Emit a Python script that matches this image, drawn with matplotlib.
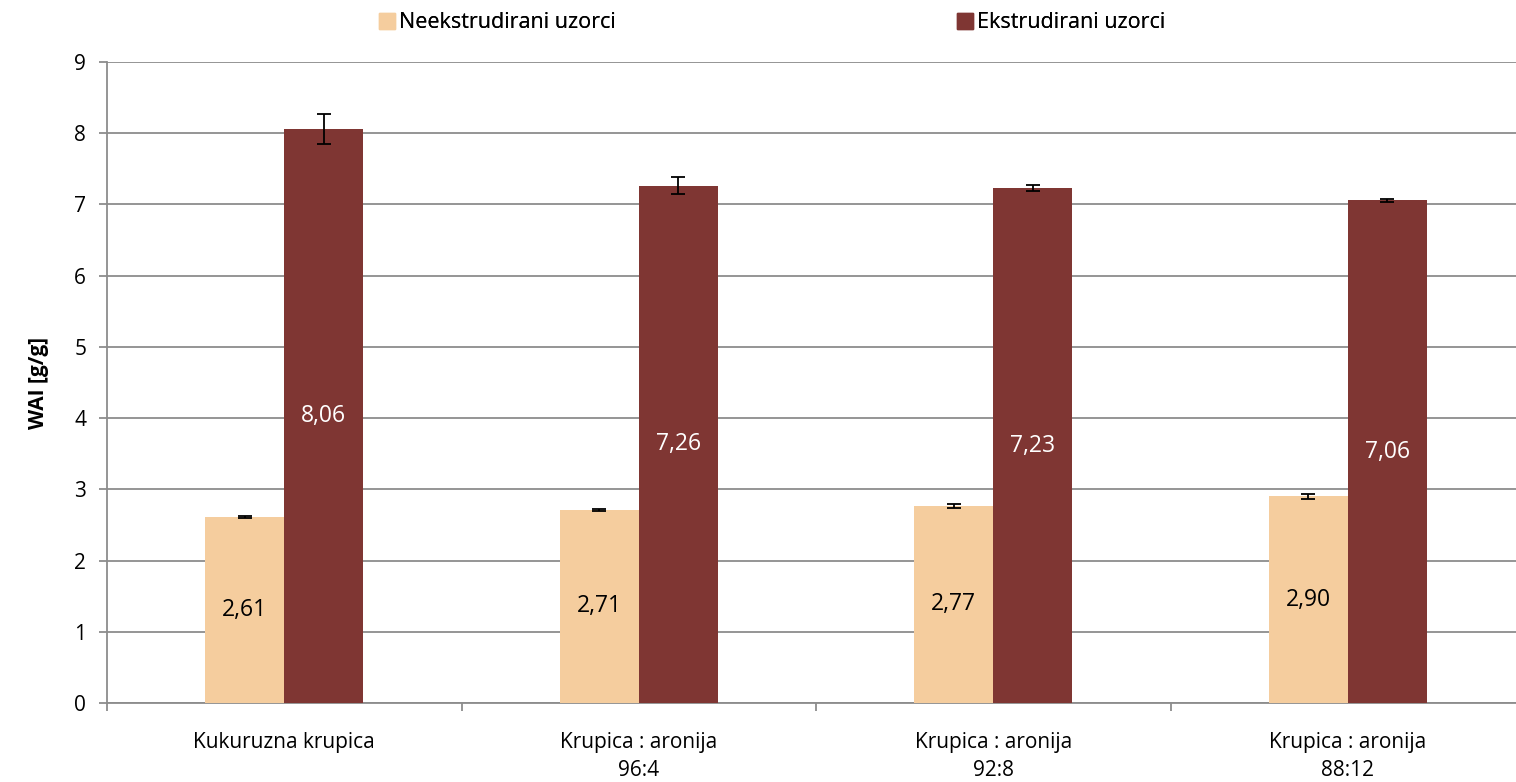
import matplotlib.pyplot as plt
import numpy as np
from matplotlib.patches import Patch

plt.rcParams['font.family'] = ['Open Sans', 'DejaVu Sans']

# Podaci
kategorije = ["Kukuruzna krupica", "Krupica : aronija\n96:4",
              "Krupica : aronija\n92:8", "Krupica : aronija\n88:12"]
neekstrudirani = [2.61, 2.71, 2.77, 2.90]
neekstrudirani_sd = [0.01, 0.02, 0.03, 0.04]
ekstrudirani = [8.06, 7.26, 7.23, 7.06]
ekstrudirani_sd = [0.21, 0.12, 0.04, 0.02]

c_svijetla = "#F5CD9E"
c_tamna = "#7F3633"
c_siva = "#8C8C8C"

fig = plt.figure(figsize=(15.16, 7.82), dpi=100)
# desni rub grafa je odrezan kao na originalu
ax = fig.add_axes([107 / 1516, 1 - 703 / 782, 1418 / 1516, 641 / 782])

x = np.arange(len(kategorije))
w = 0.223
b1 = ax.bar(x - w / 2, neekstrudirani, w, color=c_svijetla,
            yerr=neekstrudirani_sd, capsize=5,
            error_kw=dict(elinewidth=1.3, capthick=1.3, ecolor="black"), zorder=3)
b2 = ax.bar(x + w / 2, ekstrudirani, w, color=c_tamna,
            yerr=ekstrudirani_sd, capsize=5,
            error_kw=dict(elinewidth=1.3, capthick=1.3, ecolor="black"), zorder=3)

for rect, v in zip(b1, neekstrudirani):
    ax.text(rect.get_x() + rect.get_width() / 2, v / 2, f"{v:.2f}".replace(".", ","),
            ha="center", va="center", fontsize=16.5, color="black", zorder=4)
for rect, v in zip(b2, ekstrudirani):
    ax.text(rect.get_x() + rect.get_width() / 2, v / 2, f"{v:.2f}".replace(".", ","),
            ha="center", va="center", fontsize=16.5, color="white", zorder=4)

ax.set_xlim(-0.5, len(kategorije) - 0.5)
ax.set_ylim(0, 9)
ax.set_yticks(range(10))
ax.yaxis.grid(True, color=c_siva, linewidth=1.3, zorder=0)
ax.set_axisbelow(True)

# Kategorije između tick crta
ax.set_xticks(np.arange(-0.5, len(kategorije) - 0.4, 1))
ax.set_xticklabels([])
ax.set_xticks(x, minor=True)
ax.set_xticklabels(kategorije, minor=True, fontsize=15, linespacing=1.45)
ax.tick_params(axis="x", which="minor", length=0, pad=21)
ax.tick_params(axis="x", which="major", length=6, color=c_siva, width=1.3)
ax.tick_params(axis="y", length=6, color=c_siva, width=1.3, labelsize=15, pad=9)

for s in ["top", "right"]:
    ax.spines[s].set_visible(False)
for s in ["left", "bottom"]:
    ax.spines[s].set_color(c_siva)
    ax.spines[s].set_linewidth(1.3)

ax.set_ylabel("WAI [g/g]", fontsize=15, fontweight="bold", labelpad=18)

# Legenda - dvije stavke na fiksnim pozicijama
stavke = [("Neekstrudirani uzorci", c_svijetla, 379),
          ("Ekstrudirani uzorci", c_tamna, 957)]
for naziv, boja, xpix in stavke:
    leg = fig.legend(handles=[Patch(color=boja, label=naziv)], loc="center left",
                     bbox_to_anchor=(xpix / 1516, 1 - 23 / 782), frameon=False,
                     fontsize=15.5, handlelength=0.75, handleheight=0.75,
                     handletextpad=0.2, borderpad=0, borderaxespad=0)
    fig.add_artist(leg)

fig.savefig("out.png", dpi=100)
